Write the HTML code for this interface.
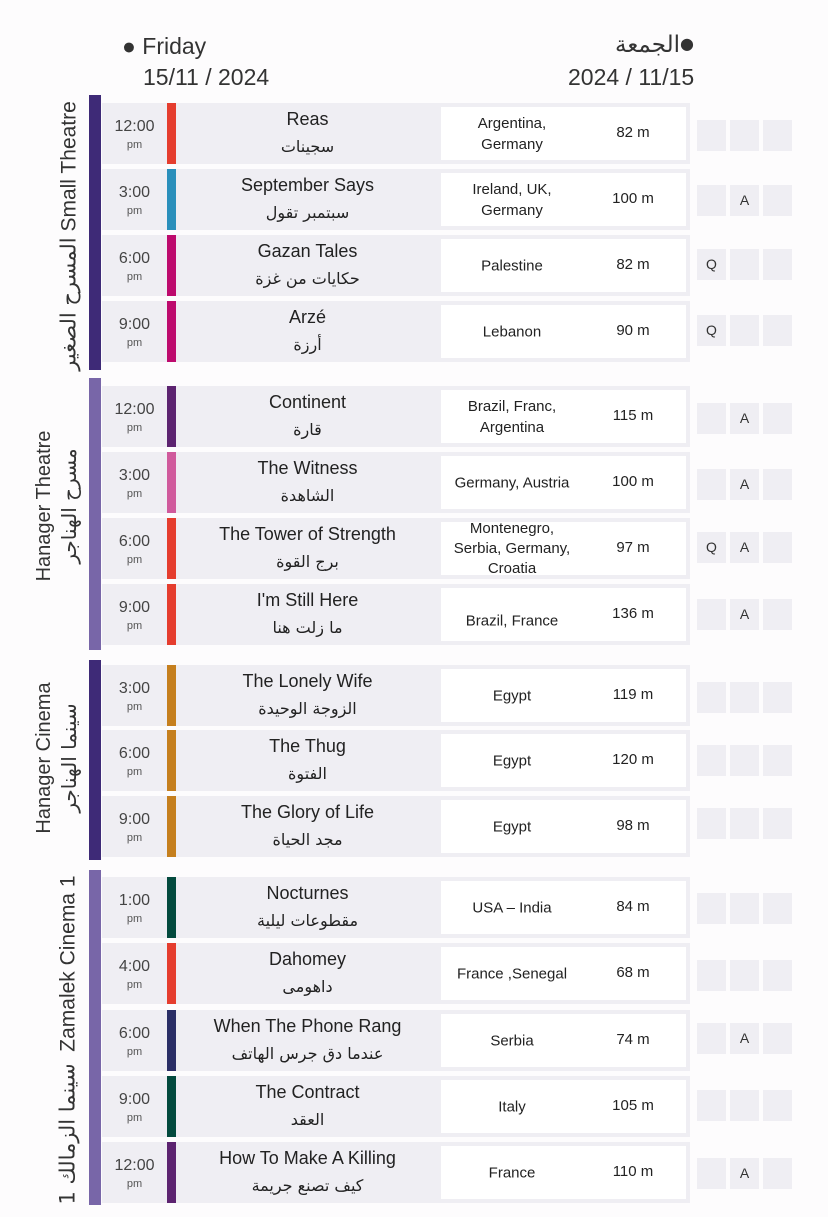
<!DOCTYPE html>
<html><head><meta charset="utf-8">
<style>
body{margin:0;width:828px;height:1217px;background:#fdfcfd;position:relative;overflow:hidden;font-family:"Liberation Sans","Noto Sans CJK SC",sans-serif;color:#222}
.a{position:absolute}
.sb{position:absolute;left:89px;width:12px}
.d{background:#3e2a77}.l{background:#7866a8}
.vl{position:absolute;white-space:nowrap;transform:translate(-50%,-50%) rotate(-90deg);font-size:20px;color:#333;line-height:1}
.row{position:absolute;left:102px;width:588px;height:61px;background:#efeef3}
.tm{position:absolute;left:0;width:65px;top:15px;text-align:center;font-size:16px;color:#444}
.tm small{display:block;font-size:11px;margin-top:3px;color:#555}
.cb{position:absolute;left:65px;width:9px;top:0;height:61px}
.ti{position:absolute;left:74px;width:263px;text-align:center;top:6px;font-size:18px;color:#222}
.ti div+div{margin-top:7px;font-family:"DejaVu Sans",sans-serif;font-size:16px}
.wb{position:absolute;left:337px;top:2px;width:245px;height:53px;background:#fff;border:2px solid #efeef3;border-right-width:4px}
.co{position:absolute;left:0;width:142px;top:50%;transform:translateY(-50%);text-align:center;font-size:15px;line-height:21px}
.du{position:absolute;left:142px;width:100px;top:17px;text-align:center;font-size:15px}
.bg{position:absolute;width:29px;height:31px;background:#efeef3;text-align:center;line-height:31px;font-size:14px;color:#333}
</style></head><body>
<div class="a" style="left:122px;top:33px;font-size:23px;color:#333">● Friday</div>
<div class="a" style="left:143px;top:64px;font-size:23px;color:#333">15/11 / 2024</div>
<div class="a" style="left:615px;top:32px;font-size:23px;color:#333;font-family:'DejaVu Sans',sans-serif">الجمعة<span style="font-size:16px;vertical-align:3px">●</span></div>
<div class="a" style="left:568px;top:64px;font-size:23px;color:#333">2024 / 11/15</div>

<div class="sb d" style="top:95px;height:275px"></div>
<div class="sb l" style="top:378px;height:272px"></div>
<div class="sb d" style="top:660px;height:200px"></div>
<div class="sb l" style="top:870px;height:335px"></div>

<div class="vl" style="left:69px;top:236px;font-size:21px"><span style="font-family:'DejaVu Sans',sans-serif">المسرح الصغير</span> Small Theatre</div>
<div class="vl" style="left:44px;top:506px">Hanager Theatre</div>
<div class="vl" style="left:69px;top:506px;font-family:'DejaVu Sans',sans-serif">مسرح الهناجر</div>
<div class="vl" style="left:44px;top:758px">Hanager Cinema</div>
<div class="vl" style="left:69px;top:758px;font-family:'DejaVu Sans',sans-serif">سينما الهناجر</div>
<div class="vl" style="left:68px;top:1040px;font-size:21px"><span style="font-family:'DejaVu Sans',sans-serif;display:inline-block">سينما الزمالك 1</span> &nbsp;Zamalek Cinema 1</div>

<!-- S1 -->
<div class="row" style="top:103px"><div class="tm">12:00<small>pm</small></div><div class="cb" style="background:#e53d2e"></div><div class="ti"><div>Reas</div><div>سجينات</div></div><div class="wb"><div class="co">Argentina,<br>Germany</div><div class="du">82 m</div></div></div>
<div class="row" style="top:169px"><div class="tm">3:00<small>pm</small></div><div class="cb" style="background:#2a8fbb"></div><div class="ti"><div>September Says</div><div>سبتمبر تقول</div></div><div class="wb"><div class="co">Ireland, UK,<br>Germany</div><div class="du">100 m</div></div></div>
<div class="row" style="top:235px"><div class="tm">6:00<small>pm</small></div><div class="cb" style="background:#bd0a6d"></div><div class="ti"><div>Gazan Tales</div><div>حكايات من غزة</div></div><div class="wb"><div class="co">Palestine</div><div class="du">82 m</div></div></div>
<div class="row" style="top:301px"><div class="tm">9:00<small>pm</small></div><div class="cb" style="background:#bd0a6d"></div><div class="ti"><div>Arzé</div><div>أرزة</div></div><div class="wb"><div class="co">Lebanon</div><div class="du">90 m</div></div></div>
<!-- S2 -->
<div class="row" style="top:386px"><div class="tm">12:00<small>pm</small></div><div class="cb" style="background:#5c2370"></div><div class="ti"><div>Continent</div><div>قارة</div></div><div class="wb"><div class="co">Brazil, Franc,<br>Argentina</div><div class="du">115 m</div></div></div>
<div class="row" style="top:452px"><div class="tm">3:00<small>pm</small></div><div class="cb" style="background:#d05a9c"></div><div class="ti"><div>The Witness</div><div>الشاهدة</div></div><div class="wb"><div class="co">Germany, Austria</div><div class="du">100 m</div></div></div>
<div class="row" style="top:518px"><div class="tm">6:00<small>pm</small></div><div class="cb" style="background:#e53d2e"></div><div class="ti"><div>The Tower of Strength</div><div>برج القوة</div></div><div class="wb"><div class="co" style="line-height:20px">Montenegro,<br>Serbia, Germany,<br>Croatia</div><div class="du">97 m</div></div></div>
<div class="row" style="top:584px"><div class="tm">9:00<small>pm</small></div><div class="cb" style="background:#e53d2e"></div><div class="ti"><div>I'm Still Here</div><div>ما زلت هنا</div></div><div class="wb"><div class="co" style="top:62%">Brazil, France</div><div class="du">136 m</div></div></div>
<!-- S3 -->
<div class="row" style="top:665px"><div class="tm">3:00<small>pm</small></div><div class="cb" style="background:#c57f1e"></div><div class="ti"><div>The Lonely Wife</div><div>الزوجة الوحيدة</div></div><div class="wb"><div class="co">Egypt</div><div class="du">119 m</div></div></div>
<div class="row" style="top:730px"><div class="tm">6:00<small>pm</small></div><div class="cb" style="background:#c57f1e"></div><div class="ti"><div>The Thug</div><div>الفتوة</div></div><div class="wb"><div class="co">Egypt</div><div class="du">120 m</div></div></div>
<div class="row" style="top:796px"><div class="tm">9:00<small>pm</small></div><div class="cb" style="background:#c57f1e"></div><div class="ti"><div>The Glory of Life</div><div>مجد الحياة</div></div><div class="wb"><div class="co">Egypt</div><div class="du">98 m</div></div></div>
<!-- S4 -->
<div class="row" style="top:877px"><div class="tm">1:00<small>pm</small></div><div class="cb" style="background:#034a3e"></div><div class="ti"><div>Nocturnes</div><div>مقطوعات ليلية</div></div><div class="wb"><div class="co">USA – India</div><div class="du">84 m</div></div></div>
<div class="row" style="top:943px"><div class="tm">4:00<small>pm</small></div><div class="cb" style="background:#e53d2e"></div><div class="ti"><div>Dahomey</div><div>داهومى</div></div><div class="wb"><div class="co">France ,Senegal</div><div class="du">68 m</div></div></div>
<div class="row" style="top:1010px"><div class="tm">6:00<small>pm</small></div><div class="cb" style="background:#2a2e66"></div><div class="ti"><div>When The Phone Rang</div><div>عندما دق جرس الهاتف</div></div><div class="wb"><div class="co">Serbia</div><div class="du">74 m</div></div></div>
<div class="row" style="top:1076px"><div class="tm">9:00<small>pm</small></div><div class="cb" style="background:#034a3e"></div><div class="ti"><div>The Contract</div><div>العقد</div></div><div class="wb"><div class="co">Italy</div><div class="du">105 m</div></div></div>
<div class="row" style="top:1142px"><div class="tm">12:00<small>pm</small></div><div class="cb" style="background:#5c2370"></div><div class="ti"><div>How To Make A Killing</div><div>كيف تصنع جريمة</div></div><div class="wb"><div class="co">France</div><div class="du">110 m</div></div></div>

<!-- badges -->
<div class="bg" style="left:697px;top:120px"></div><div class="bg" style="left:730px;top:120px"></div><div class="bg" style="left:763px;top:120px"></div>
<div class="bg" style="left:697px;top:185px"></div><div class="bg" style="left:730px;top:185px">A</div><div class="bg" style="left:763px;top:185px"></div>
<div class="bg" style="left:697px;top:249px">Q</div><div class="bg" style="left:730px;top:249px"></div><div class="bg" style="left:763px;top:249px"></div>
<div class="bg" style="left:697px;top:315px">Q</div><div class="bg" style="left:730px;top:315px"></div><div class="bg" style="left:763px;top:315px"></div>
<div class="bg" style="left:697px;top:403px"></div><div class="bg" style="left:730px;top:403px">A</div><div class="bg" style="left:763px;top:403px"></div>
<div class="bg" style="left:697px;top:469px"></div><div class="bg" style="left:730px;top:469px">A</div><div class="bg" style="left:763px;top:469px"></div>
<div class="bg" style="left:697px;top:532px">Q</div><div class="bg" style="left:730px;top:532px">A</div><div class="bg" style="left:763px;top:532px"></div>
<div class="bg" style="left:697px;top:599px"></div><div class="bg" style="left:730px;top:599px">A</div><div class="bg" style="left:763px;top:599px"></div>
<div class="bg" style="left:697px;top:682px"></div><div class="bg" style="left:730px;top:682px"></div><div class="bg" style="left:763px;top:682px"></div>
<div class="bg" style="left:697px;top:745px"></div><div class="bg" style="left:730px;top:745px"></div><div class="bg" style="left:763px;top:745px"></div>
<div class="bg" style="left:697px;top:808px"></div><div class="bg" style="left:730px;top:808px"></div><div class="bg" style="left:763px;top:808px"></div>
<div class="bg" style="left:697px;top:893px"></div><div class="bg" style="left:730px;top:893px"></div><div class="bg" style="left:763px;top:893px"></div>
<div class="bg" style="left:697px;top:960px"></div><div class="bg" style="left:730px;top:960px"></div><div class="bg" style="left:763px;top:960px"></div>
<div class="bg" style="left:697px;top:1023px"></div><div class="bg" style="left:730px;top:1023px">A</div><div class="bg" style="left:763px;top:1023px"></div>
<div class="bg" style="left:697px;top:1090px"></div><div class="bg" style="left:730px;top:1090px"></div><div class="bg" style="left:763px;top:1090px"></div>
<div class="bg" style="left:697px;top:1158px"></div><div class="bg" style="left:730px;top:1158px">A</div><div class="bg" style="left:763px;top:1158px"></div>
</body></html>
